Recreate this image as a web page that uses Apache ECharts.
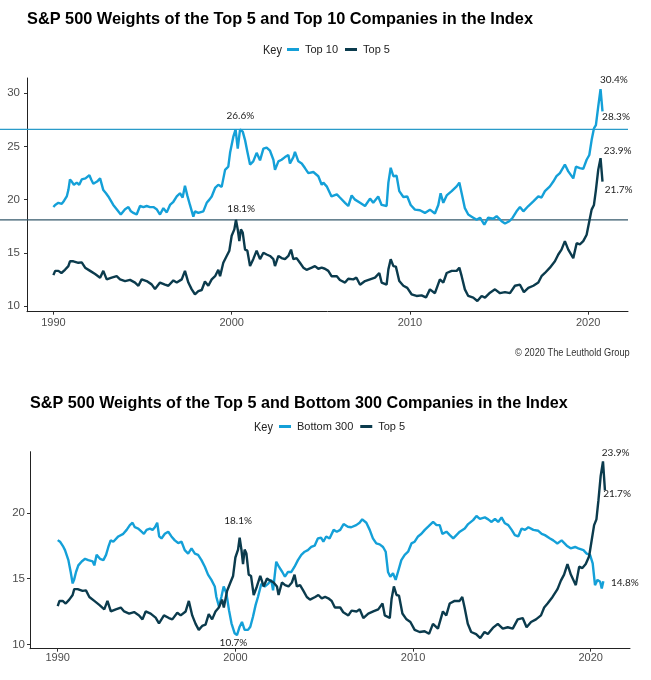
<!DOCTYPE html>
<html><head><meta charset="utf-8">
<script src="https://cdn.jsdelivr.net/npm/echarts@6/dist/echarts.min.js"></script>
<style>html,body{margin:0;padding:0;background:#fff}#c{width:651px;height:680px}</style>
</head><body><div id="c"></div><script>
const xTicks=[1990,2000,2010,2020];
const yTicksTop=[10,15,20,25,30];
const yTicksBottom=[10,15,20];
const refLines=[26.6,18.1];
const titleTop='S&P 500 Weights of the Top 5 and Top 10 Companies in the Index';
const titleBottom='S&P 500 Weights of the Top 5 and Bottom 300 Companies in the Index';
const credit='© 2020 The Leuthold Group';
const top10=[[1990.00,19.3],[1990.10,19.5],[1990.28,19.7],[1990.47,19.6],[1990.60,19.9],[1990.75,20.3],[1990.84,20.9],[1990.93,21.9],[1991.03,21.7],[1991.15,21.4],[1991.31,21.6],[1991.45,21.4],[1991.59,21.9],[1991.80,22.0],[1992.02,22.3],[1992.12,21.9],[1992.24,21.5],[1992.45,21.7],[1992.62,22.0],[1992.80,20.9],[1992.95,20.6],[1993.08,20.3],[1993.22,19.9],[1993.36,19.5],[1993.55,19.1],[1993.78,18.6],[1994.02,19.1],[1994.21,19.3],[1994.35,18.9],[1994.49,18.75],[1994.67,18.6],[1994.86,19.4],[1995.05,19.3],[1995.23,19.4],[1995.42,19.3],[1995.61,19.3],[1995.79,19.1],[1995.98,18.6],[1996.17,19.2],[1996.36,18.8],[1996.54,19.5],[1996.73,19.8],[1996.92,20.3],[1997.10,20.6],[1997.25,20.2],[1997.38,21.3],[1997.51,20.4],[1997.66,19.5],[1997.85,18.4],[1997.94,18.9],[1998.13,18.75],[1998.41,18.9],[1998.60,19.7],[1998.75,20.0],[1998.88,20.3],[1999.07,21.1],[1999.25,21.4],[1999.44,21.2],[1999.63,22.8],[1999.81,23.1],[1999.91,24.4],[2000.09,25.9],[2000.22,26.6],[2000.34,24.8],[2000.47,26.6],[2000.62,26.4],[2000.75,25.6],[2000.88,24.5],[2001.03,23.3],[2001.21,23.6],[2001.40,24.4],[2001.59,23.7],[2001.78,24.8],[2001.96,24.9],[2002.15,24.6],[2002.34,23.75],[2002.43,22.8],[2002.62,23.6],[2002.80,23.75],[2002.99,24.0],[2003.18,24.2],[2003.27,23.4],[2003.46,24.0],[2003.55,24.5],[2003.74,23.6],[2003.93,23.4],[2004.11,22.97],[2004.30,22.5],[2004.58,22.6],[2004.86,22.2],[2005.05,21.4],[2005.14,21.6],[2005.33,21.25],[2005.60,20.3],[2005.90,20.5],[2006.07,20.2],[2006.36,19.7],[2006.54,19.4],[2006.73,20.4],[2006.92,20.0],[2007.20,19.7],[2007.48,19.4],[2007.76,20.1],[2007.94,19.7],[2008.22,20.3],[2008.41,19.5],[2008.69,19.4],[2008.79,21.6],[2008.92,23.0],[2009.07,22.2],[2009.25,22.25],[2009.40,20.8],[2009.63,20.25],[2009.85,20.3],[2010.04,19.5],[2010.28,19.06],[2010.56,19.0],[2010.84,18.75],[2011.12,19.06],[2011.40,18.7],[2011.59,19.5],[2011.72,20.6],[2011.87,19.7],[2012.06,20.4],[2012.34,20.8],[2012.62,21.25],[2012.77,21.6],[2012.90,20.6],[2013.08,19.2],[2013.27,18.6],[2013.46,18.4],[2013.74,18.1],[2013.93,18.3],[2014.17,17.65],[2014.39,18.3],[2014.67,18.2],[2014.86,18.44],[2015.14,17.97],[2015.33,17.75],[2015.57,17.97],[2015.76,18.3],[2015.98,18.9],[2016.17,19.3],[2016.36,18.9],[2016.64,19.4],[2016.92,19.84],[2017.20,20.3],[2017.38,20.2],[2017.57,20.8],[2017.85,21.25],[2018.04,21.7],[2018.22,22.2],[2018.41,22.5],[2018.69,23.3],[2018.88,22.66],[2019.16,22.0],[2019.31,23.1],[2019.53,22.97],[2019.72,22.9],[2019.91,23.75],[2020.06,24.2],[2020.19,25.6],[2020.32,26.7],[2020.43,27.0],[2020.56,28.75],[2020.69,30.4],[2020.80,28.3]];
const top5=[[1990.00,12.9],[1990.10,13.3],[1990.28,13.3],[1990.45,13.1],[1990.65,13.4],[1990.84,13.75],[1990.93,14.2],[1991.12,14.2],[1991.40,14.06],[1991.59,14.1],[1991.78,13.6],[1992.06,13.3],[1992.34,13.0],[1992.62,12.66],[1992.80,13.3],[1992.99,12.5],[1993.27,12.66],[1993.55,12.8],[1993.74,12.5],[1994.02,12.34],[1994.30,12.45],[1994.58,12.2],[1994.77,11.9],[1994.95,12.5],[1995.23,12.34],[1995.51,12.03],[1995.70,11.6],[1995.98,12.2],[1996.26,12.0],[1996.45,11.9],[1996.73,12.4],[1996.92,12.2],[1997.20,12.5],[1997.38,13.3],[1997.57,12.2],[1997.76,11.56],[1997.94,11.1],[1998.13,11.4],[1998.32,11.5],[1998.50,12.3],[1998.69,11.9],[1998.88,12.5],[1999.07,12.8],[1999.25,13.4],[1999.35,12.8],[1999.53,14.06],[1999.72,14.7],[1999.87,15.2],[2000.00,16.6],[2000.15,17.2],[2000.24,18.1],[2000.34,17.2],[2000.43,16.1],[2000.52,17.2],[2000.62,16.9],[2000.75,15.3],[2000.88,15.2],[2001.03,13.75],[2001.21,14.4],[2001.40,15.2],[2001.59,14.4],[2001.78,15.0],[2001.96,14.84],[2002.15,14.7],[2002.34,14.4],[2002.43,13.75],[2002.62,14.7],[2002.80,14.5],[2002.99,14.4],[2003.18,14.7],[2003.33,15.3],[2003.46,14.4],[2003.64,14.5],[2003.83,14.06],[2004.02,13.6],[2004.20,13.4],[2004.49,13.6],[2004.67,13.75],[2004.86,13.5],[2005.05,13.6],[2005.23,13.5],[2005.42,13.3],[2005.60,12.8],[2005.90,12.8],[2006.07,12.44],[2006.36,12.2],[2006.54,12.56],[2006.82,12.5],[2007.00,12.66],[2007.20,12.0],[2007.48,12.34],[2007.76,12.5],[2008.04,12.66],[2008.28,13.1],[2008.41,12.2],[2008.69,12.0],[2008.79,13.44],[2008.92,14.4],[2009.07,13.75],[2009.21,13.7],[2009.40,12.34],[2009.63,11.9],[2009.85,11.7],[2010.09,11.1],[2010.37,10.94],[2010.65,11.0],[2010.90,10.8],[2011.12,11.56],[2011.40,11.2],[2011.68,12.5],[2011.87,12.2],[2012.06,13.1],[2012.34,13.3],[2012.62,13.3],[2012.77,13.6],[2012.90,12.8],[2013.08,11.56],[2013.27,10.94],[2013.55,10.78],[2013.78,10.47],[2014.02,10.94],[2014.21,10.78],[2014.49,11.25],[2014.77,11.56],[2015.05,11.2],[2015.33,11.3],[2015.61,11.2],[2015.89,11.9],[2016.17,12.0],[2016.39,11.3],[2016.64,11.7],[2016.92,11.9],[2017.20,12.2],[2017.38,12.8],[2017.57,13.1],[2017.85,13.6],[2018.13,14.2],[2018.32,14.84],[2018.50,15.3],[2018.69,16.1],[2018.88,15.3],[2019.16,14.5],[2019.35,15.9],[2019.53,15.8],[2019.72,16.1],[2019.91,16.7],[2020.06,17.97],[2020.19,19.06],[2020.32,19.5],[2020.43,20.9],[2020.56,22.8],[2020.69,23.9],[2020.80,21.7]];
const bottom300=[[1990.00,17.92],[1990.13,17.8],[1990.32,17.4],[1990.41,17.16],[1990.51,17.04],[1990.60,16.4],[1990.73,15.5],[1990.84,14.63],[1990.92,14.9],[1991.03,15.5],[1991.16,16.0],[1991.35,16.3],[1991.54,16.5],[1991.72,16.4],[1991.97,16.3],[1992.06,16.0],[1992.19,16.8],[1992.38,16.5],[1992.57,16.4],[1992.72,16.8],[1992.85,17.4],[1992.98,17.9],[1993.13,17.8],[1993.41,18.2],[1993.69,18.4],[1993.88,18.7],[1994.06,19.06],[1994.21,19.24],[1994.34,18.9],[1994.53,18.8],[1994.72,18.56],[1994.85,18.4],[1995.00,18.7],[1995.19,18.8],[1995.34,18.7],[1995.47,18.9],[1995.60,19.24],[1995.71,18.2],[1995.84,18.05],[1996.03,18.4],[1996.22,18.56],[1996.40,18.2],[1996.59,17.9],[1996.78,17.7],[1996.97,17.8],[1997.15,17.16],[1997.34,16.9],[1997.53,17.3],[1997.72,16.9],[1997.90,16.8],[1998.09,16.4],[1998.28,15.9],[1998.46,15.3],[1998.65,14.9],[1998.84,14.4],[1998.93,13.6],[1999.08,12.86],[1999.21,13.6],[1999.34,14.4],[1999.49,13.9],[1999.64,12.6],[1999.78,11.6],[1999.96,10.84],[2000.09,10.7],[2000.24,11.34],[2000.37,11.7],[2000.52,11.1],[2000.71,11.1],[2000.84,11.34],[2000.99,12.1],[2001.14,13.0],[2001.27,13.6],[2001.46,14.6],[2001.65,14.4],[2001.84,14.6],[2002.02,14.9],[2002.12,14.1],[2002.30,16.28],[2002.45,15.9],[2002.64,15.5],[2002.79,15.14],[2002.96,15.5],[2003.15,15.5],[2003.33,15.9],[2003.52,16.4],[2003.71,16.8],[2003.90,17.04],[2004.08,17.16],[2004.27,17.4],[2004.46,17.5],[2004.64,18.05],[2004.83,18.1],[2004.95,17.8],[2005.11,18.2],[2005.30,18.05],[2005.53,18.7],[2005.71,18.56],[2005.90,18.7],[2006.09,19.14],[2006.33,18.94],[2006.52,18.9],[2006.80,19.06],[2006.99,19.24],[2007.14,19.5],[2007.37,19.24],[2007.56,18.7],[2007.74,18.05],[2007.93,17.67],[2008.12,17.6],[2008.31,17.4],[2008.46,17.04],[2008.59,15.5],[2008.72,15.14],[2008.87,15.4],[2009.02,14.9],[2009.15,15.5],[2009.34,16.4],[2009.53,16.8],[2009.72,17.04],[2009.91,17.67],[2010.09,17.8],[2010.28,18.2],[2010.47,18.4],[2010.66,18.7],[2010.85,18.94],[2011.13,19.3],[2011.32,19.06],[2011.50,19.06],[2011.65,18.4],[2011.88,18.56],[2012.07,18.3],[2012.26,18.05],[2012.44,18.3],[2012.63,18.56],[2012.91,18.8],[2013.10,19.14],[2013.38,19.44],[2013.57,19.75],[2013.76,19.54],[2014.04,19.65],[2014.23,19.5],[2014.42,19.3],[2014.61,19.54],[2014.79,19.3],[2014.98,19.65],[2015.17,19.2],[2015.36,19.06],[2015.55,18.7],[2015.73,18.3],[2015.92,18.2],[2016.11,18.8],[2016.30,18.7],[2016.49,18.9],[2016.77,18.7],[2017.05,18.63],[2017.24,18.4],[2017.42,18.3],[2017.71,18.05],[2017.89,17.9],[2018.12,17.67],[2018.36,17.9],[2018.65,17.5],[2018.87,17.3],[2019.12,17.4],[2019.30,17.3],[2019.59,17.16],[2019.77,16.9],[2019.96,16.8],[2020.11,16.15],[2020.24,14.5],[2020.38,14.9],[2020.53,14.76],[2020.62,14.25],[2020.71,14.8]];
// annotation texts and the data points they refer to
const notesTop10=[['26.6%',2000.3,26.6],['30.4%',2020.69,30.4],['28.3%',2020.80,28.3]];
const notesTop5Upper=[['18.1%',2000.24,18.1],['23.9%',2020.69,23.9],['21.7%',2020.80,21.7]];
const notesTop5Lower=[['18.1%',2000.24,18.1],['23.9%',2020.69,23.9],['21.7%',2020.80,21.7]];
const notesBottom300=[['10.7%',2000.09,10.7],['14.8%',2020.71,14.8]];

const C_LIGHT='#14a0d8', C_DARK='#0b3b4d';
const SANS='"Liberation Sans",Arial,sans-serif';
const offsets={
  't10':[[3.3,-13.5],[13.4,-9.1],[13.5,5.6]],
  't5u':[[5.3,-10.8],[17.1,-7.2],[16.2,8.4]],
  't5l':[[-1.6,-17.1],[12.7,-8.9],[12.1,2.9]],
  'b3':[[-3.5,7.2],[21.5,1.5]]
};
function mp(notes,key){
  return {symbol:'circle',symbolSize:1,itemStyle:{color:'rgba(0,0,0,0)'},silent:true,
    label:{show:true,position:'inside',fontFamily:'Lato, "Open Sans", sans-serif',fontSize:10,color:'#222'},
    data:notes.map((n,i)=>({coord:[n[1],n[2]],value:n[0],label:{formatter:n[0],offset:offsets[key][i]}}))};
}
const axisCommon={type:'value',axisLine:{show:true,lineStyle:{color:'#222',width:1}},
  axisTick:{show:true,length:3,lineStyle:{color:'#333'}},splitLine:{show:false},
  axisLabel:{color:'#4d4d4d',fontSize:11,fontFamily:SANS,formatter:v=>String(v)}};
function xA(grid,min,max,margin){return Object.assign({},axisCommon,{gridIndex:grid,min:min,max:max,
  axisTick:Object.assign({},axisCommon.axisTick,{customValues:xTicks}),
  axisLabel:Object.assign({},axisCommon.axisLabel,{customValues:xTicks,margin:margin})});}
function yA(grid,min,max,ticks,margin){return Object.assign({},axisCommon,{gridIndex:grid,min:min,max:max,
  axisTick:Object.assign({},axisCommon.axisTick,{customValues:ticks}),
  axisLabel:Object.assign({},axisCommon.axisLabel,{customValues:ticks,margin:margin,fontSize:11.5})});}
const lineBase={type:'line',showSymbol:false,symbol:'none',clip:false,lineStyle:{width:2.4},emphasis:{disabled:true}};
const legendText={fontSize:11,fontFamily:SANS,color:'#222',padding:[0,0,0,1]};

const staticGraphics=[
  {id:'t1',type:'text',left:27,top:11,scaleX:0.96,style:{text:titleTop,font:'bold 17px '+SANS,fill:'#000'}},
  {id:'k1',type:'text',left:263,top:44,scaleX:0.88,style:{text:'Key',font:'12.5px '+SANS,fill:'#222'}},
  {id:'cr',type:'text',left:515,top:348,scaleX:0.88,style:{text:credit,font:'10.5px '+SANS,fill:'#333'}},
  {id:'t2',type:'text',left:30,top:395,scaleX:0.95,style:{text:titleBottom,font:'bold 17px '+SANS,fill:'#000'}},
  {id:'k2',type:'text',left:254,top:421,scaleX:0.88,style:{text:'Key',font:'12.5px '+SANS,fill:'#222'}}
];

const chart=echarts.init(document.getElementById('c'),null,{renderer:'canvas'});
chart.setOption({
  animation:false,backgroundColor:'#fff',
  grid:[{left:27,right:23,top:78,height:233.7,outerBoundsMode:'none',containLabel:false},
        {left:30,right:21,top:451.7,height:197,outerBoundsMode:'none',containLabel:false}],
  xAxis:[xA(0,1988.52,2022.23,6),xA(1,1988.44,2022.21,4)],
  yAxis:[yA(0,9.46,31.44,yTicksTop,7),yA(1,9.67,24.64,yTicksBottom,5)],
  legend:[
    {left:287,top:44,padding:0,itemGap:7,itemWidth:12,itemHeight:3,icon:'rect',selectedMode:false,
     textStyle:legendText,data:['Top 10','Top 5']},
    {left:279,top:421,padding:0,itemGap:7,itemWidth:12,itemHeight:3,icon:'rect',selectedMode:false,
     textStyle:legendText,data:['Bottom 300','Top 5']}
  ],
  graphic:staticGraphics,
  series:[
    Object.assign({},lineBase,{name:'Top 10',xAxisIndex:0,yAxisIndex:0,data:top10,color:C_LIGHT,z:3,
      markPoint:mp(notesTop10,'t10')}),
    Object.assign({},lineBase,{name:'Top 5',xAxisIndex:0,yAxisIndex:0,data:top5,color:C_DARK,z:4,
      markPoint:mp(notesTop5Upper,'t5u')}),
    Object.assign({},lineBase,{name:'Bottom 300',xAxisIndex:1,yAxisIndex:1,data:bottom300,color:C_LIGHT,z:3,
      markPoint:mp(notesBottom300,'b3')}),
    Object.assign({},lineBase,{name:'Top 5',xAxisIndex:1,yAxisIndex:1,data:top5,color:C_DARK,z:4,
      markPoint:mp(notesTop5Lower,'t5l')})
  ]
});
// horizontal reference lines: y from the chart's own scale, spanning from the page edge to the panel's right edge
const refColors=['#2a9bc9','#34586b'];
const rightEdge=chart.convertToPixel({xAxisIndex:0},2022.23);
const refGraphics=refLines.map((v,i)=>{
  const y=chart.convertToPixel({yAxisIndex:0},v);
  return {id:'ref'+i,type:'line',z:2,shape:{x1:0,y1:y,x2:rightEdge,y2:y},style:{stroke:refColors[i],lineWidth:1.2}};
});
chart.setOption({graphic:staticGraphics.concat(refGraphics)});
</script></body></html>
